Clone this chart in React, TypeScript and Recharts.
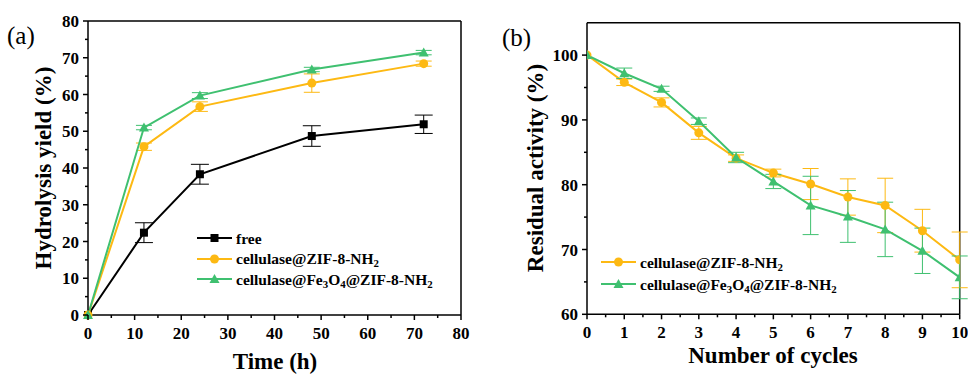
import React from "react";
import {
  LineChart,
  Line,
  XAxis,
  YAxis,
  ErrorBar,
  ReferenceLine,
  Legend,
} from "recharts";

// ---- panel (a): hydrolysis yield vs time ----
const TIME_H = [0, 12, 24, 48, 72];
const FREE = [0, 22.4, 38.3, 48.7, 51.9];
const FREE_ERR = [0, 2.7, 2.7, 2.8, 2.5];
const ZIF = [0, 45.8, 56.7, 63.1, 68.4];
const ZIF_ERR = [0, 1.0, 1.3, 2.5, 0.7];
const FE = [0, 51.0, 59.7, 66.8, 71.4];
const FE_ERR = [0, 0.6, 0.8, 0.6, 0.6];

const A_X_TICKS = [0, 5, 10, 15, 20, 25, 30, 35, 40, 45, 50, 55, 60, 65, 70, 75, 80];
const A_Y_TICKS = [0, 5, 10, 15, 20, 25, 30, 35, 40, 45, 50, 55, 60, 65, 70, 75, 80];

// ---- panel (b): residual activity vs cycles ----
const CYCLES = [0, 1, 2, 3, 4, 5, 6, 7, 8, 9, 10];
const ZIF_ACT = [100, 95.8, 92.7, 88.0, 84.1, 81.8, 80.1, 78.1, 76.8, 72.9, 68.4];
const ZIF_ACT_ERR = [0, 0.5, 0.7, 1.0, 0.5, 0.6, 2.4, 2.8, 4.2, 3.3, 4.3];
const FE_ACT = [100, 97.2, 94.8, 89.8, 84.2, 80.5, 76.8, 75.1, 73.1, 69.8, 65.7];
const FE_ACT_ERR = [0, 0.8, 0.4, 0.5, 0.8, 1.1, 4.5, 4.0, 4.2, 3.5, 3.3];

const B_X_TICKS = [0, 0.5, 1, 1.5, 2, 2.5, 3, 3.5, 4, 4.5, 5, 5.5, 6, 6.5, 7, 7.5, 8, 8.5, 9, 9.5, 10];
const B_Y_TICKS = [60, 65, 70, 75, 80, 85, 90, 95, 100];

const BLACK = "#000000";
const ORANGE = "#FDB913";
const GREEN = "#3FC070";
const FONT = "Liberation Serif";

const dataA = TIME_H.map((t, i) => ({
  t,
  free: FREE[i],
  freeErr: FREE_ERR[i],
  zif: ZIF[i],
  zifErr: ZIF_ERR[i],
  fe: FE[i],
  feErr: FE_ERR[i],
}));

const dataB = CYCLES.map((c, i) => ({
  c,
  zif: ZIF_ACT[i],
  zifErr: ZIF_ACT_ERR[i],
  fe: FE_ACT[i],
  feErr: FE_ACT_ERR[i],
}));

type Marker = "square" | "circle" | "triangle";

function markerShape(kind: Marker, cx: number, cy: number, color: string, key?: React.Key) {
  if (kind === "square") {
    return <rect key={key} x={cx - 4} y={cy - 4} width={8} height={8} fill={color} />;
  }
  if (kind === "circle") {
    return <circle key={key} cx={cx} cy={cy} r={4.5} fill={color} />;
  }
  return (
    <polygon
      key={key}
      points={`${cx},${cy - 5} ${cx + 5},${cy + 4} ${cx - 5},${cy + 4}`}
      fill={color}
    />
  );
}

const makeDot = (kind: Marker, color: string) => (props: any) => {
  const { cx, cy, index } = props;
  if (cx == null || cy == null) return <g key={index} />;
  return markerShape(kind, cx, cy, color, index);
};

// minor/major ticks drawn by hand (recharts has no minor ticks)
const makeXTick = (isMajor: (v: number) => boolean) => (props: any) => {
  const { x, y, payload } = props;
  const major = isMajor(payload.value);
  return (
    <g>
      <line x1={x} x2={x} y1={y} y2={y + (major ? 5 : 3)} stroke={BLACK} strokeWidth={1.5} />
      {major && (
        <text
          x={x}
          y={y + 23.5}
          textAnchor="middle"
          style={{ fontFamily: FONT, fontWeight: 700, fontSize: 17 }}
          fill={BLACK}
        >
          {payload.value}
        </text>
      )}
    </g>
  );
};

const makeYTick = (isMajor: (v: number) => boolean) => (props: any) => {
  const { x, y, payload } = props;
  const major = isMajor(payload.value);
  return (
    <g>
      <line x1={x} x2={x - (major ? 5 : 3)} y1={y} y2={y} stroke={BLACK} strokeWidth={1.5} />
      {major && (
        <text
          x={x - 9}
          y={y + 6}
          textAnchor="end"
          style={{ fontFamily: FONT, fontWeight: 700, fontSize: 17 }}
          fill={BLACK}
        >
          {payload.value}
        </text>
      )}
    </g>
  );
};

type LegendItem = { kind: Marker; color: string; label: React.ReactNode };

const makeLegend = (items: LegendItem[], rowHeight: number) => () => (
  <div style={{ fontFamily: FONT, fontWeight: 700, fontSize: 15.5, color: BLACK }}>
    {items.map((it, i) => (
      <div
        key={i}
        style={{ display: "flex", alignItems: "center", height: rowHeight, whiteSpace: "nowrap" }}
      >
        <svg width={40} height={12} style={{ display: "block" }}>
          <line x1={1} x2={36} y1={6} y2={6} stroke={it.color} strokeWidth={2} />
          {markerShape(it.kind, 18.5, 6, it.color)}
        </svg>
        <span style={{ lineHeight: "15px" }}>{it.label}</span>
      </div>
    ))}
  </div>
);

const Sub = ({ children }: { children: React.ReactNode }) => (
  <sub style={{ fontSize: "70%", lineHeight: 0, verticalAlign: "-0.3em" }}>{children}</sub>
);

const ZIF_LABEL = (
  <>
    cellulase@ZIF-8-NH<Sub>2</Sub>
  </>
);
const FE_LABEL = (
  <>
    cellulase@Fe<Sub>3</Sub>O<Sub>4</Sub>@ZIF-8-NH<Sub>2</Sub>
  </>
);

const LEGEND_A: LegendItem[] = [
  { kind: "square", color: BLACK, label: "free" },
  { kind: "circle", color: ORANGE, label: ZIF_LABEL },
  { kind: "triangle", color: GREEN, label: FE_LABEL },
];
const LEGEND_B: LegendItem[] = [
  { kind: "circle", color: ORANGE, label: ZIF_LABEL },
  { kind: "triangle", color: GREEN, label: FE_LABEL },
];

const titleStyle: React.CSSProperties = {
  position: "absolute",
  fontFamily: FONT,
  fontWeight: 700,
  fontSize: 23,
  color: BLACK,
  whiteSpace: "nowrap",
  lineHeight: 1,
};

const letterStyle: React.CSSProperties = {
  position: "absolute",
  fontFamily: FONT,
  fontSize: 25,
  color: BLACK,
  lineHeight: 1,
};

const lineCommon = {
  type: "linear" as const,
  strokeWidth: 2,
  isAnimationActive: false,
  activeDot: false as const,
};

function PanelA() {
  return (
    <LineChart
      width={480}
      height={375}
      data={dataA}
      margin={{ top: 21, right: 19, bottom: 0, left: 0 }}
    >
      <XAxis
        dataKey="t"
        type="number"
        domain={[0, 80]}
        ticks={A_X_TICKS}
        interval={0}
        tickSize={0}
        tickMargin={0}
        tickLine={false}
        height={60}
        axisLine={{ stroke: BLACK, strokeWidth: 1.5 }}
        tick={makeXTick((v) => v % 10 === 0)}
      />
      <YAxis
        type="number"
        domain={[0, 80]}
        ticks={A_Y_TICKS}
        interval={0}
        tickSize={0}
        tickMargin={0}
        tickLine={false}
        width={88}
        axisLine={{ stroke: BLACK, strokeWidth: 1.5 }}
        tick={makeYTick((v) => v % 10 === 0)}
      />
      <ReferenceLine y={80} stroke={BLACK} strokeWidth={1.5} />
      <ReferenceLine x={80} stroke={BLACK} strokeWidth={1.5} />
      <Legend
        layout="vertical"
        verticalAlign="middle"
        align="center"
        content={makeLegend(LEGEND_A, 20.5)}
        wrapperStyle={{ left: 196, top: 228, width: 270, height: 62 }}
      />
      <Line dataKey="free" stroke={BLACK} dot={makeDot("square", BLACK)} {...lineCommon}>
        <ErrorBar dataKey="freeErr" width={9} stroke={BLACK} strokeWidth={1} direction="y" />
      </Line>
      <Line dataKey="zif" stroke={ORANGE} dot={makeDot("circle", ORANGE)} {...lineCommon}>
        <ErrorBar dataKey="zifErr" width={8} stroke={ORANGE} strokeWidth={1} direction="y" />
      </Line>
      <Line dataKey="fe" stroke={GREEN} dot={makeDot("triangle", GREEN)} {...lineCommon}>
        <ErrorBar dataKey="feErr" width={8} stroke={GREEN} strokeWidth={1} direction="y" />
      </Line>
    </LineChart>
  );
}

function PanelB() {
  return (
    <LineChart
      width={480}
      height={375}
      data={dataB}
      margin={{ top: 22.7, right: 8.3, bottom: 0, left: 0 }}
    >
      <XAxis
        dataKey="c"
        type="number"
        domain={[0, 10]}
        allowDataOverflow
        ticks={B_X_TICKS}
        interval={0}
        tickSize={0}
        tickMargin={0}
        tickLine={false}
        height={60.7}
        axisLine={{ stroke: BLACK, strokeWidth: 1.5 }}
        tick={makeXTick((v) => Number.isInteger(v))}
      />
      <YAxis
        type="number"
        domain={[60, 105]}
        allowDataOverflow
        ticks={B_Y_TICKS}
        interval={0}
        tickSize={0}
        tickMargin={0}
        tickLine={false}
        width={99}
        axisLine={{ stroke: BLACK, strokeWidth: 1.5 }}
        tick={makeYTick((v) => v % 10 === 0)}
      />
      <ReferenceLine y={105} stroke={BLACK} strokeWidth={1.5} />
      <ReferenceLine x={10} stroke={BLACK} strokeWidth={1.5} />
      <Legend
        layout="vertical"
        verticalAlign="middle"
        align="center"
        content={makeLegend(LEGEND_B, 22)}
        wrapperStyle={{ left: 112, top: 251, width: 270, height: 44 }}
      />
      <Line dataKey="zif" stroke={ORANGE} dot={makeDot("circle", ORANGE)} {...lineCommon}>
        <ErrorBar dataKey="zifErr" width={8} stroke={ORANGE} strokeWidth={1} direction="y" />
      </Line>
      <Line dataKey="fe" stroke={GREEN} dot={makeDot("triangle", GREEN)} {...lineCommon}>
        <ErrorBar dataKey="feErr" width={8} stroke={GREEN} strokeWidth={1} direction="y" />
      </Line>
    </LineChart>
  );
}

export default function App() {
  return (
    <div
      style={{
        position: "absolute",
        left: 0,
        top: 0,
        width: 968,
        height: 375,
        background: "#ffffff",
        overflow: "hidden",
        fontFamily: FONT,
      }}
    >
      <div style={{ position: "absolute", left: 0, top: 0 }}>
        <PanelA />
      </div>
      <div style={{ position: "absolute", left: 488, top: 0 }}>
        <PanelB />
      </div>

      <div style={{ ...letterStyle, left: 7, top: 23 }}>(a)</div>
      <div style={{ ...letterStyle, left: 502, top: 25 }}>(b)</div>

      <div
        style={{
          ...titleStyle,
          left: 43,
          top: 168,
          transform: "translate(-50%, -50%) rotate(-90deg)",
        }}
      >
        Hydrolysis yield (%)
      </div>
      <div style={{ ...titleStyle, left: 275, top: 350, transform: "translateX(-50%)" }}>
        Time (h)
      </div>

      <div
        style={{
          ...titleStyle,
          left: 535,
          top: 168,
          transform: "translate(-50%, -50%) rotate(-90deg)",
        }}
      >
        Residual activity (%)
      </div>
      <div style={{ ...titleStyle, left: 773, top: 344, transform: "translateX(-50%)" }}>
        Number of cycles
      </div>
    </div>
  );
}
